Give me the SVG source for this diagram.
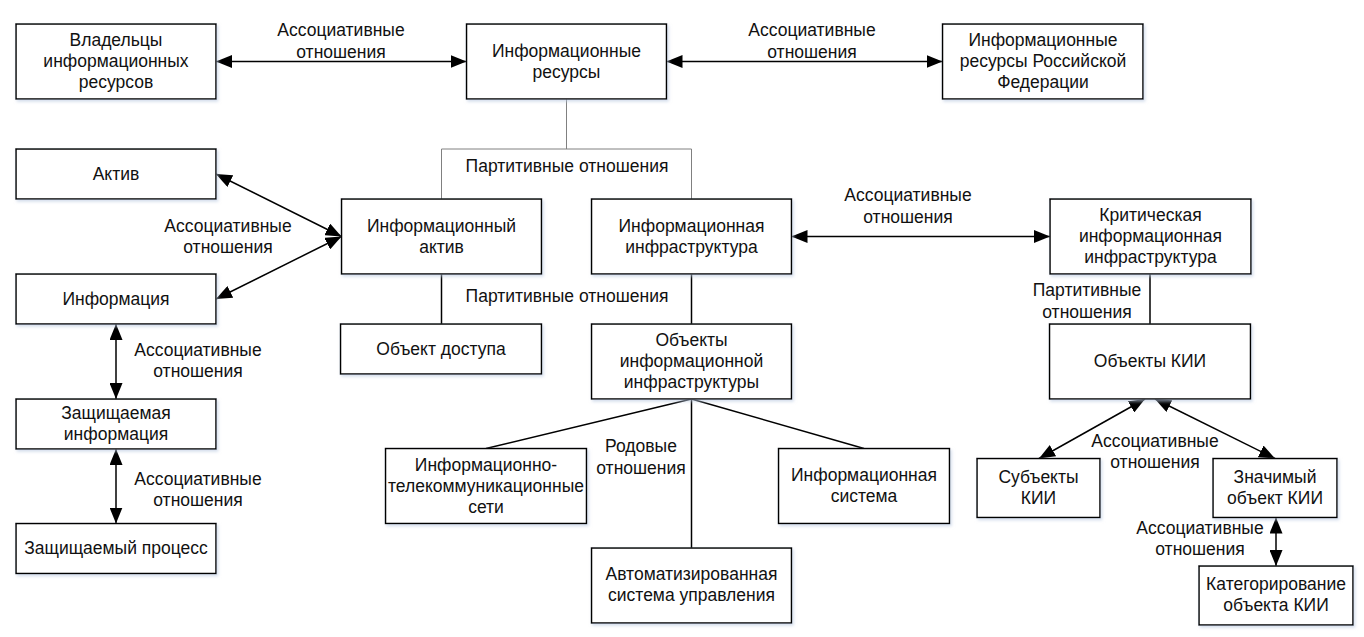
<svg xmlns="http://www.w3.org/2000/svg" width="1364" height="637" viewBox="0 0 1364 637">
<style>
.box{fill:#fff;stroke:#000;stroke-width:1.5;filter:url(#sh)}
text{font-family:"Liberation Sans",Arial,sans-serif;font-size:17.5px;fill:#111;text-anchor:middle}
.ln{stroke:#000;stroke-width:1.5;fill:none}
.gr{stroke:#808080;stroke-width:1;fill:none}
.ar{marker-start:url(#ah);marker-end:url(#ah)}
</style>
<defs>
<filter id="sh" x="-10%" y="-10%" width="130%" height="140%">
<feDropShadow dx="1.5" dy="2" stdDeviation="1.5" flood-color="#b8c8e0" flood-opacity="0.6"/>
</filter>
<marker id="ah" markerWidth="16" markerHeight="13" refX="16" refY="6.5" orient="auto-start-reverse" markerUnits="userSpaceOnUse">
<path d="M0,0 L16,6.5 L0,13 z" fill="#000"/>
</marker>
</defs>
<rect width="1364" height="637" fill="#fff"/>
<g id="connectors">
<line class="ln ar" x1="216" y1="61.5" x2="466.5" y2="61.5"/>
<line class="ln ar" x1="666.5" y1="61.5" x2="942.5" y2="61.5"/>
<polyline class="gr" points="566.5,99 566.5,149"/>
<polyline class="gr" points="441.5,199 441.5,149 691.5,149 691.5,199"/>
<line class="ln ar" x1="216" y1="174" x2="341.5" y2="236.5"/>
<line class="ln ar" x1="341.5" y1="236.5" x2="216" y2="299"/>
<line class="ln" x1="441.5" y1="274" x2="441.5" y2="324"/>
<line class="ln" x1="691.5" y1="274" x2="691.5" y2="324"/>
<line class="ln ar" x1="791.5" y1="236.5" x2="1050" y2="236.5"/>
<line class="ln" x1="1150" y1="274" x2="1150" y2="324"/>
<line class="ln ar" x1="116" y1="324" x2="116" y2="399"/>
<line class="ln ar" x1="116" y1="449" x2="116" y2="523.5"/>
<line class="ln" x1="691.5" y1="399" x2="486" y2="448.5"/>
<line class="ln" x1="691.5" y1="399" x2="691.5" y2="548"/>
<line class="ln" x1="691.5" y1="399" x2="864" y2="448.5"/>
<line class="ln ar" x1="1039" y1="458.5" x2="1145" y2="399"/>
<line class="ln ar" x1="1155" y1="399" x2="1275" y2="458.5"/>
<line class="ln ar" x1="1276" y1="517.5" x2="1276" y2="566"/>
<text x="341" y="36">Ассоциативные</text><text x="341" y="58">отношения</text>
<text x="812" y="36">Ассоциативные</text><text x="812" y="58">отношения</text>
<text x="567" y="172">Партитивные отношения</text>
<text x="228" y="232">Ассоциативные</text><text x="228" y="253">отношения</text>
<text x="567" y="302">Партитивные отношения</text>
<text x="908" y="201">Ассоциативные</text><text x="908" y="223">отношения</text>
<text x="1087" y="296">Партитивные</text><text x="1087" y="318">отношения</text>
<text x="198" y="356">Ассоциативные</text><text x="198" y="377">отношения</text>
<text x="198" y="485">Ассоциативные</text><text x="198" y="506">отношения</text>
<text x="641" y="452">Родовые</text><text x="641" y="474">отношения</text>
<text x="1155" y="447">Ассоциативные</text><text x="1155" y="468">отношения</text>
<text x="1200" y="534">Ассоциативные</text><text x="1200" y="555">отношения</text>
</g>
<g id="owners"><rect class="box" x="16" y="24" width="200" height="75"/><text x="116" y="46">Владельцы</text><text x="116" y="67">информационных</text><text x="116" y="88">ресурсов</text></g>
<g id="resources"><rect class="box" x="466.5" y="24" width="200" height="75"/><text x="566.5" y="56.5">Информационные</text><text x="566.5" y="77.5">ресурсы</text></g>
<g id="resources-rf"><rect class="box" x="942.5" y="24" width="200.5" height="75"/><text x="1043" y="46">Информационные</text><text x="1043" y="67">ресурсы Российской</text><text x="1043" y="88">Федерации</text></g>
<g id="asset"><rect class="box" x="16" y="149" width="200" height="50"/><text x="116" y="179.5">Актив</text></g>
<g id="info-asset"><rect class="box" x="341.5" y="199" width="200" height="75"/><text x="441.5" y="231.5">Информационный</text><text x="441.5" y="252.5">актив</text></g>
<g id="info-infra"><rect class="box" x="591.5" y="199" width="200" height="75"/><text x="691.5" y="231.5">Информационная</text><text x="691.5" y="252.5">инфраструктура</text></g>
<g id="kii"><rect class="box" x="1050" y="199" width="201" height="75"/><text x="1150.5" y="221">Критическая</text><text x="1150.5" y="242">информационная</text><text x="1150.5" y="263">инфраструктура</text></g>
<g id="information"><rect class="box" x="16" y="274" width="200" height="50"/><text x="116" y="304.5">Информация</text></g>
<g id="access-object"><rect class="box" x="340.5" y="324" width="201" height="50"/><text x="441" y="354.5">Объект доступа</text></g>
<g id="infra-objects"><rect class="box" x="591.5" y="324" width="200" height="75"/><text x="691.5" y="346">Объекты</text><text x="691.5" y="367">информационной</text><text x="691.5" y="388">инфраструктуры</text></g>
<g id="kii-objects"><rect class="box" x="1049.5" y="324" width="201" height="75"/><text x="1150" y="367">Объекты КИИ</text></g>
<g id="protected-info"><rect class="box" x="16" y="399" width="200" height="50"/><text x="116" y="418.5">Защищаемая</text><text x="116" y="439.5">информация</text></g>
<g id="its"><rect class="box" x="385.5" y="448.5" width="201" height="75"/><text x="486" y="470.5">Информационно-</text><text x="486" y="491.5">телекоммуникационные</text><text x="486" y="512.5">сети</text></g>
<g id="is"><rect class="box" x="778.5" y="448.5" width="171" height="75"/><text x="864" y="480.5">Информационная</text><text x="864" y="501.5">система</text></g>
<g id="kii-subjects"><rect class="box" x="977" y="458.5" width="123" height="59"/><text x="1038.5" y="482.5">Субъекты</text><text x="1038.5" y="503.5">КИИ</text></g>
<g id="significant"><rect class="box" x="1213" y="458.5" width="124" height="59"/><text x="1275" y="482.5">Значимый</text><text x="1275" y="503.5">объект КИИ</text></g>
<g id="protected-process"><rect class="box" x="16" y="523.5" width="200" height="50"/><text x="116" y="554">Защищаемый процесс</text></g>
<g id="asu"><rect class="box" x="591.5" y="548" width="200" height="75"/><text x="691.5" y="580">Автоматизированная</text><text x="691.5" y="601">система управления</text></g>
<g id="categorization"><rect class="box" x="1199" y="566" width="154" height="59"/><text x="1276" y="590">Категорирование</text><text x="1276" y="611">объекта КИИ</text></g>
</svg>
